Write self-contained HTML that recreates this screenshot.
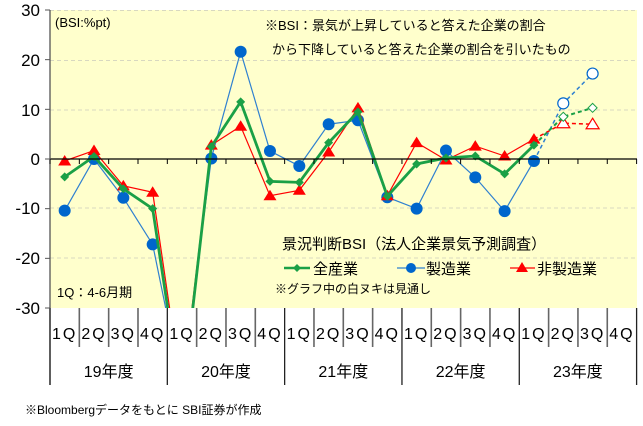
<!DOCTYPE html>
<html><head><meta charset="utf-8"><style>
body{margin:0;background:#fff;width:643px;height:426px;overflow:hidden}
svg{display:block;font-family:"Liberation Sans","Noto Sans CJK JP",sans-serif}
</style></head><body>
<svg id="s" width="643" height="426" xmlns="http://www.w3.org/2000/svg">
<defs><clipPath id="c"><rect x="50" y="10" width="587" height="298"/></clipPath></defs>
<rect x="50" y="10" width="587" height="298" fill="#FFFFCC"/>
<g stroke="#d8d8c0" stroke-dasharray="4,3" stroke-width="1">
<line x1="50" x2="637" y1="10.5" y2="10.5"/><line x1="50" x2="637" y1="60.5" y2="60.5"/><line x1="50" x2="637" y1="110" y2="110"/><line x1="50" x2="637" y1="208" y2="208"/><line x1="50" x2="637" y1="258" y2="258"/>
</g>
<g id="g"></g>
<line x1="50" x2="637" y1="159" y2="159" stroke="#000" stroke-width="1.3"/>
<line x1="50" x2="50" y1="10" y2="385" stroke="#555" stroke-width="1.3"/>
<g font-size="17" fill="#000" text-anchor="end">
<text x="40" y="16">30</text><text x="40" y="66">20</text><text x="40" y="116">10</text><text x="40" y="165">0</text><text x="40" y="214">-10</text><text x="40" y="264">-20</text><text x="40" y="314">-30</text>
</g>
<g font-size="13">
<text x="55" y="27">(BSI:%pt)</text>
<text x="265" y="30">※BSI：景気が上昇していると答えた企業の割合</text>
<text x="272" y="54">から下降していると答えた企業の割合を引いたもの</text>
<text x="57" y="297">1Q：4-6月期</text>
<text x="282" y="249" font-size="15">景況判断BSI（法人企業景気予測調査）</text>
<text x="313" y="274" font-size="15">全産業</text>
<text x="426" y="274" font-size="15">製造業</text>
<text x="537" y="274" font-size="15">非製造業</text>
<text x="275" y="293" font-size="12">※グラフ中の白ヌキは見通し</text>
<text x="25" y="414" font-size="12">※Bloombergデータをもとに SBI証券が作成</text>
</g>
<line x1="284" x2="310" y1="268" y2="268" stroke="#1AA046" stroke-width="2.5"/><path d="M297 264l4 4-4 4-4-4z" fill="#1AA046"/>
<line x1="397" x2="425" y1="268" y2="268" stroke="#2F80D0" stroke-width="1.2"/><circle cx="411" cy="268" r="5" fill="#0066CC"/>
<line x1="510" x2="535" y1="268" y2="268" stroke="#FF0000" stroke-width="1.2"/><path d="M522 262l6 10h-12z" fill="#FF0000"/>
</svg>
<script>
var s=document.getElementById('s'),g=document.getElementById('g'),NS="http://www.w3.org/2000/svg";
function el(p,t,a,txt){var e=document.createElementNS(NS,t);for(var k in a)e.setAttribute(k,a[k]);if(txt)e.textContent=txt;p.appendChild(e);return e;}
function X(i){return 64.67+29.33*i}function Y(v){return 159-v*4.967}
var all=[-3.6,0.5,-6,-10,-49,2.5,11.5,-4.5,-4.7,3.3,9.5,-7.5,-1,0.2,0.6,-3,2.8,8.5,10.3];
var man=[-10.4,0,-7.8,-17.2,-46,0.1,21.6,1.6,-1.4,7,7.8,-7.7,-10,1.7,-3.7,-10.5,-0.4,11.2,17.2];
var non=[-0.4,1.7,-5.4,-6.7,-47,2.8,6.6,-7.4,-6.3,1.4,10.3,-7.4,3.3,-0.2,2.6,0.6,4,7.2,7.0];
var cg=el(g,'g',{'clip-path':'url(#c)'});
function series(d,col,w,mk){
 var p=[];for(var i=0;i<=16;i++)p.push(X(i)+','+Y(d[i]));
 el(cg,'polyline',{points:p.join(' '),fill:'none',stroke:col,'stroke-width':w});
 var q=[];for(var i=16;i<=18;i++)q.push(X(i)+','+Y(d[i]));
 el(cg,'polyline',{points:q.join(' '),fill:'none',stroke:col,'stroke-width':w<2?1.5:2,'stroke-dasharray':'4,3'});
 for(var i=0;i<19;i++){var x=X(i),y=Y(d[i]),open=i>16;var f=open?'#fff':mk.f;
  if(mk.t=='c')el(cg,'circle',{cx:x,cy:y,r:open?5.5:6,fill:f,stroke:mk.f,'stroke-width':open?1.2:0});
  else if(mk.t=='d')el(cg,'path',{d:'M'+x+' '+(y-4.5)+'l4.5 4.5-4.5 4.5-4.5-4.5z',fill:f,stroke:mk.f,'stroke-width':open?1:0});
  else el(cg,'path',{d:'M'+x+' '+(y-6)+'l6.5 10.5h-13z',fill:f,stroke:mk.f,'stroke-width':open?1.2:0});}
}
series(man,'#2F80D0',1.2,{t:'c',f:'#0066CC'});
series(non,'#FF0000',1.2,{t:'t',f:'#FF0000'});
series(all,'#1AA046',2.8,{t:'d',f:'#1AA046'});
for(var i=0;i<=20;i++){var x=50+29.33*i;el(s,'line',{x1:x,x2:x,y1:159,y2:164,stroke:'#000','stroke-width':1});
 var yr=(i%4==0);el(s,'line',{x1:x,x2:x,y1:308,y2:yr?385:347,stroke:yr?'#222':'#666','stroke-width':yr?1.3:1.6});}
for(var v=-30;v<=30;v+=10)el(s,'line',{x1:45,x2:50,y1:Y(v),y2:Y(v),stroke:'#555'});
for(var i=0;i<20;i++){el(s,'text',{x:X(i),y:339,'font-size':16,'text-anchor':'middle','letter-spacing':'2'},((i%4)+1)+'Q');}
var yrs=['19年度','20年度','21年度','22年度','23年度'];
for(var k=0;k<5;k++)el(s,'text',{x:50+117.3*k+58.7,y:377,'font-size':16,'text-anchor':'middle'},yrs[k]);
</script>
</body></html>
